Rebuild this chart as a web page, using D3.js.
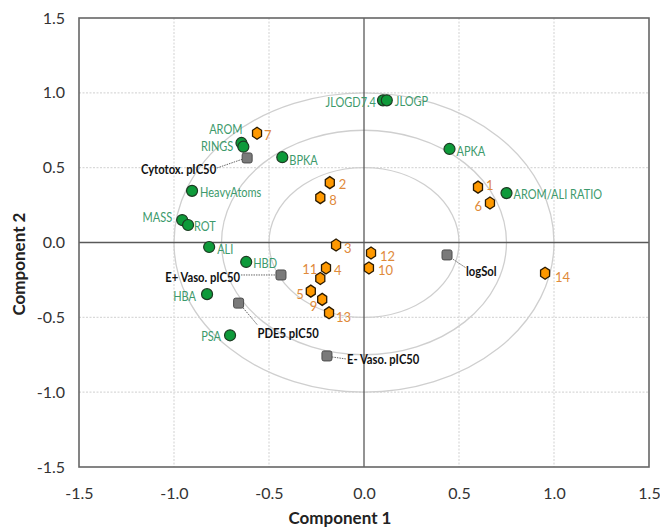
<!DOCTYPE html>
<html>
<head>
<meta charset="utf-8">
<script src="https://cdn.jsdelivr.net/npm/d3@7"></script>
<style>
  body { margin: 0; background: #fff; }
  text { font-family: Lato, "Open Sans", sans-serif; }
</style>
</head>
<body>
<div id="chart"></div>
<script>
// descriptor loadings (green circles)
var varNames = ["JLOGD7.4", "JLOGP", "APKA", "AROM/ALI RATIO", "BPKA", "AROM", "RINGS",
                "HeavyAtoms", "MASS", "ROT", "ALI", "HBD", "HBA", "PSA"];
var varX = [0.10, 0.12, 0.45, 0.75, -0.43, -0.645, -0.635, -0.905, -0.957, -0.926, -0.815, -0.62, -0.826, -0.705];
var varY = [0.95, 0.95, 0.625, 0.33, 0.57, 0.665, 0.64, 0.345, 0.15, 0.117, -0.03, -0.13, -0.345, -0.62];

// responses (grey squares)
var respNames = ["Cytotox. pIC50", "E+ Vaso. pIC50", "PDE5 pIC50", "E- Vaso. pIC50", "logSol"];
var respX = [-0.615, -0.437, -0.66, -0.195, 0.437];
var respY = [0.565, -0.217, -0.405, -0.758, -0.083];

// compounds (orange hexagons)
var cmpdNames = ["1", "2", "3", "4", "5", "6", "7", "8", "9", "10", "11", "12", "13", "14"];
var cmpdX = [0.60, -0.18, -0.147, -0.20, -0.28, 0.663, -0.563, -0.23, -0.22, 0.026, -0.23, 0.037, -0.184, 0.953];
var cmpdY = [0.37, 0.40, -0.017, -0.17, -0.325, 0.264, 0.73, 0.30, -0.38, -0.17, -0.24, -0.07, -0.47, -0.205];

var ticks = [-1.5, -1.0, -0.5, 0.0, 0.5, 1.0, 1.5];
var gridTicks = [-1.0, -0.5, 0.5, 1.0];
var ringRadii = [0.5, 0.75, 1.0];

// label placement: [dx, dy, anchor]
var varLab = {
  "JLOGD7.4": [-7, 2, "end"], "JLOGP": [8, 1, "start"], "APKA": [7, 3, "start"],
  "AROM/ALI RATIO": [7, 2, "start"], "BPKA": [7, 3, "start"], "AROM": [1, -13, "end"],
  "RINGS": [-10, 0, "end"], "HeavyAtoms": [8, 2, "start"], "MASS": [-10, -2, "end"],
  "ROT": [6, 2, "start"], "ALI": [8, 3, "start"], "HBD": [7, 2, "start"],
  "HBA": [-11, 2, "end"], "PSA": [-9, 1, "end"]
};
var cmpdLab = {
  "1": [8, -2, "start"], "2": [9, 2, "start"], "3": [8, 3, "start"], "4": [8, 3, "start"],
  "5": [-7, 3, "end"], "6": [-8, 3, "end"], "7": [7, 2, "start"], "8": [9, 3, "start"],
  "9": [-5, 7, "end"], "10": [9, 3, "start"], "11": [-3, -9, "end"], "12": [9, 3, "start"],
  "13": [7, 5, "start"], "14": [10, 4, "start"]
};
// [text dx, dy, anchor, leader start dx, dy, leader end dx, dy] relative to square
var respLab = {
  "Cytotox. pIC50": [-31, 12, "end", -30, 10, -4, 1],
  "E+ Vaso. pIC50": [-41, 3, "end", -40, 0, -6, 0],
  "PDE5 pIC50": [19, 30, "start", 3, 3, 19, 22],
  "E- Vaso. pIC50": [20, 4, "start", 5, 1, 19, 3],
  "logSol": [19, 17, "start", 4, 3, 19, 13]
};

var W = 660, H = 527;
var x = d3.scaleLinear().domain([-1.5, 1.5]).range([79, 649]);
var y = d3.scaleLinear().domain([-1.5, 1.5]).range([467, 18]);

var svg = d3.select("#chart").append("svg")
  .attr("width", W).attr("height", H);

// grid
svg.append("g").selectAll("line").data(gridTicks).enter().append("line")
  .attr("x1", d => x(d)).attr("x2", d => x(d))
  .attr("y1", y(1.5)).attr("y2", y(-1.5))
  .attr("stroke", "#d9d9d9").attr("stroke-width", 1.2).attr("stroke-dasharray", "2,1.5");
svg.append("g").selectAll("line").data(gridTicks).enter().append("line")
  .attr("y1", d => y(d)).attr("y2", d => y(d))
  .attr("x1", x(-1.5)).attr("x2", x(1.5))
  .attr("stroke", "#d9d9d9").attr("stroke-width", 1.2).attr("stroke-dasharray", "2,1.5");

// rings
svg.append("g").selectAll("ellipse").data(ringRadii).enter().append("ellipse")
  .attr("cx", x(0)).attr("cy", y(0))
  .attr("rx", d => x(d) - x(0)).attr("ry", d => y(0) - y(d))
  .attr("fill", "none").attr("stroke", "#cfcfcf").attr("stroke-width", 1.3);

// zero axes
svg.append("line").attr("x1", x(0)).attr("x2", x(0)).attr("y1", y(1.5)).attr("y2", y(-1.5))
  .attr("stroke", "#595959").attr("stroke-width", 1.3);
svg.append("line").attr("y1", y(0)).attr("y2", y(0)).attr("x1", x(-1.5)).attr("x2", x(1.5))
  .attr("stroke", "#595959").attr("stroke-width", 1.3);

// frame
svg.append("rect").attr("x", x(-1.5)).attr("y", y(1.5))
  .attr("width", x(1.5) - x(-1.5)).attr("height", y(-1.5) - y(1.5))
  .attr("fill", "none").attr("stroke", "#666").attr("stroke-width", 1.6);

// axes, plain hyphen for negatives, no domain or tick marks
var fmt = d => d3.format(".1f")(d).replace("\u2212", "-");
var gx = svg.append("g").attr("transform", "translate(0," + (y(-1.5) + 18) + ")")
  .call(d3.axisBottom(x).tickValues(ticks).tickFormat(fmt).tickSize(0));
var gy = svg.append("g").attr("transform", "translate(" + (x(-1.5) - 11) + ",0)")
  .call(d3.axisLeft(y).tickValues(ticks).tickFormat(fmt).tickSize(0));
[gx, gy].forEach(function(g) {
  g.select(".domain").remove();
  g.selectAll("text").attr("font-family", "Lato, sans-serif").attr("font-size", 16).attr("fill", "#333");
});

svg.append("text").attr("x", 340).attr("y", 524).attr("text-anchor", "middle")
  .attr("font-size", 17).attr("font-weight", "bold").attr("fill", "#222").text("Component 1");
svg.append("text").attr("transform", "translate(25,264) rotate(-90)").attr("text-anchor", "middle")
  .attr("font-size", 17).attr("font-weight", "bold").attr("fill", "#222").text("Component 2");

// leader lines for responses
var resp = respNames.map((n, i) => ({name: n, x: respX[i], y: respY[i]}));
svg.append("g").selectAll("line").data(resp).enter().append("line")
  .attr("x1", d => x(d.x) + respLab[d.name][3]).attr("y1", d => y(d.y) + respLab[d.name][4])
  .attr("x2", d => x(d.x) + respLab[d.name][5]).attr("y2", d => y(d.y) + respLab[d.name][6])
  .attr("stroke", "#666").attr("stroke-width", 1).attr("stroke-dasharray", "1.5,1");

// descriptor points
var vars = varNames.map((n, i) => ({name: n, x: varX[i], y: varY[i]}));
svg.append("g").selectAll("circle").data(vars).enter().append("circle")
  .attr("cx", d => x(d.x)).attr("cy", d => y(d.y)).attr("r", 5.5)
  .attr("fill", "#0e9a3a").attr("stroke", "#1c3a22").attr("stroke-width", 1.2);
svg.append("g").selectAll("text").data(vars).enter().append("text")
  .attr("transform", d => "translate(" + (x(d.x) + varLab[d.name][0]) + "," + (y(d.y) + varLab[d.name][1]) + ") scale(0.88,1)")
  .attr("dy", "0.35em").attr("text-anchor", d => varLab[d.name][2])
  .attr("font-size", 12.5).attr("fill", "#3d9a6c").text(d => d.name);

// response squares
svg.append("g").selectAll("rect").data(resp).enter().append("rect")
  .attr("x", d => x(d.x) - 5).attr("y", d => y(d.y) - 5).attr("width", 10).attr("height", 10)
  .attr("rx", 2).attr("fill", "#7a7a7a").attr("stroke", "#4d4d4d").attr("stroke-width", 1);
svg.append("g").selectAll("text").data(resp).enter().append("text")
  .attr("transform", d => "translate(" + (x(d.x) + respLab[d.name][0]) + "," + (y(d.y) + respLab[d.name][1]) + ") scale(0.9,1)")
  .attr("dy", "0.35em").attr("text-anchor", d => respLab[d.name][2])
  .attr("font-size", 12.5).attr("font-weight", "bold").attr("fill", "#111").text(d => d.name);

// compound hexagons
var hex = d3.range(6).map(function(k) {
  var a = Math.PI / 3 * k + Math.PI / 6;
  return [5.2 * Math.cos(a), 6 * Math.sin(a)];
});
var hexPath = "M" + hex.map(p => p.join(",")).join("L") + "Z";
var cmpd = cmpdNames.map((n, i) => ({name: n, x: cmpdX[i], y: cmpdY[i]}));
svg.append("g").selectAll("path").data(cmpd).enter().append("path")
  .attr("d", hexPath).attr("transform", d => "translate(" + x(d.x) + "," + y(d.y) + ")")
  .attr("fill", "#ff9900").attr("stroke", "#2a1a00").attr("stroke-width", 1.3);
svg.append("g").selectAll("text").data(cmpd).enter().append("text")
  .attr("x", d => x(d.x) + cmpdLab[d.name][0]).attr("y", d => y(d.y) + cmpdLab[d.name][1])
  .attr("dy", "0.35em").attr("text-anchor", d => cmpdLab[d.name][2])
  .attr("font-size", 13).attr("fill", "#e08a3a").text(d => d.name);
</script>
</body>
</html>
